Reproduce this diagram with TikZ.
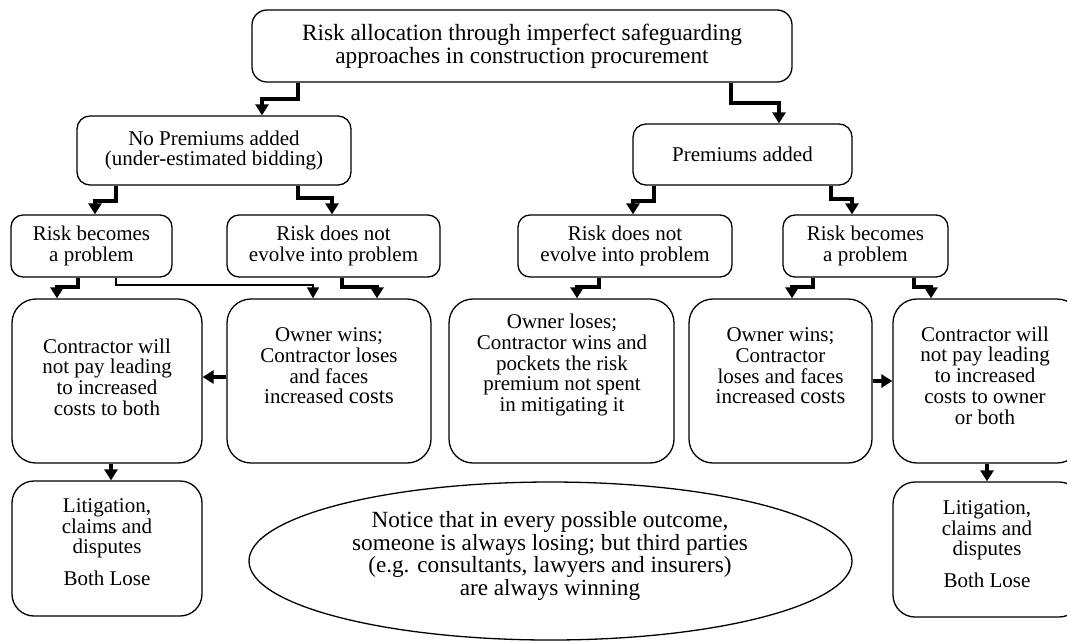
\documentclass[tikz,border=0pt]{standalone}
\usepackage{fontspec}
\setmainfont{Liberation Serif}
\usetikzlibrary{arrows.meta,shapes.geometric}
\newcommand\rowsz{\fontsize{21}{20.7}\selectfont}
\newcommand\titsz{\fontsize{23.3}{23}\selectfont}
\newcommand\ellsz{\fontsize{23.2}{22.7}\selectfont}
\newcommand\costword{{\fontsize{22.5}{20.7}\selectfont costs}}
\begin{document}
\begin{tikzpicture}[x=1pt,y=-1pt,
  box/.style={draw, line width=1.3pt, rounded corners=#1, inner sep=0pt, align=center, font=\rowsz},
  box/.default=12pt,
  txt/.style={inner sep=0pt, align=center, font=\rowsz},
  thk/.style={line width=3.2pt, line join=miter, -{Triangle[width=13pt,length=11pt]}},
  thn/.style={line width=1.3pt, line join=miter, -{Triangle[width=12pt,length=11pt]}}
]
\useasboundingbox (0,0) rectangle (1067,641);

% top
\node[box=15pt, minimum width=540pt, minimum height=72pt, font=\titsz] (top) at (522,46)
  {Risk allocation through imperfect safeguarding\\approaches in construction procurement};
% level 1
\node[box=13pt, minimum width=274pt, minimum height=69pt] (np) at (214,150.5)
  {No Premiums added\\(under-estimated bidding)};
\node[box=13pt, minimum width=219pt, minimum height=61pt] (pa) at (742.5,154.5)
  {Premiums added};
% level 2
\node[box, minimum width=161pt, minimum height=62pt] (rb1) at (91.5,246)
  {Risk becomes\\a problem};
\node[box, minimum width=213pt, minimum height=62pt] (rd1) at (333.5,246)
  {Risk does not\\evolve into problem};
\node[box, minimum width=214pt, minimum height=62pt] (rd2) at (625,246)
  {Risk does not\\evolve into problem};
\node[box, minimum width=165pt, minimum height=62pt] (rb2) at (865.5,246)
  {Risk becomes\\a problem};
% level 3
\node[box=24pt, minimum width=190pt, minimum height=164pt] (c1) at (107,381) {};
\node[box=24pt, minimum width=204pt, minimum height=164pt] (ow1) at (329,381) {};
\node[box=24pt, minimum width=225pt, minimum height=164pt] (ol) at (561.5,381) {};
\node[box=24pt, minimum width=183pt, minimum height=164pt] (ow2) at (780.5,381) {};
\node[box=24pt, minimum width=188pt, minimum height=164pt] (c2) at (987,381) {};
\node[txt] (c1t) at (107,377) {Contractor will\\not pay leading\\to increased\\costs to both};
\node[txt] (ow1t) at (329,366) {Owner wins;\\Contractor loses\\and faces\\increased \costword};
\node[txt] (olt) at (562,365) {Owner loses;\\Contractor wins and\\pockets the risk\\premium not spent\\in mitigating it};
\node[txt] (ow2t) at (780.5,366) {Owner wins;\\Contractor\\loses and faces\\increased \costword};
\node[txt] (c2t) at (985,375.5) {Contractor will\\not pay leading\\to increased\\costs to owner\\or both};
% level 4
\node[box=22pt, minimum width=190pt, minimum height=135pt] (l1) at (107,548.5) {};
\node[box=22pt, minimum width=188pt, minimum height=135pt] (l2) at (987,549.5) {};
\node[txt] (l1t) at (107,542) {Litigation,\\claims and\\disputes\\[11pt]Both Lose};
\node[txt] (l2t) at (987,544) {Litigation,\\claims and\\disputes\\[11pt]Both Lose};
% ellipse
\node[draw, line width=1.3pt, ellipse, inner sep=0pt, minimum width=603pt, minimum height=158pt] (ell) at (550.5,561) {};
\node[txt, font=\ellsz] (ellt) at (550,556) {Notice that in every possible outcome,\\someone is always losing; but third parties\\(e.g. consultants, lawyers and insurers)\\are always winning};

% connectors
\draw[thk] (top.south -| 298,0) |- (262,99) -- (np.north -| 262,0);
\draw[thk] (top.south -| 731,0) |- (779,103) -- (pa.north -| 779,0);
\draw[thk] (np.south -| 116,0) |- (95,201) -- (rb1.north -| 95,0);
\draw[thk] (np.south -| 298,0) |- (332,198) -- (rd1.north -| 332,0);
\draw[thk] (pa.south -| 654,0) |- (633,201) -- (rd2.north -| 633,0);
\draw[thk] (pa.south -| 831,0) |- (852,199) -- (rb2.north -| 852,0);
\draw[thk] (rb1.south -| 78,0) |- (57,287) -- (c1.north -| 57,0);
\draw[thn] (rb1.south -| 116,0) |- (313,285) -- (ow1.north -| 313,0);
\draw[thk] (rd1.south -| 342,0) |- (377,287) -- (ow1.north -| 377,0);
\draw[thk] (rd2.south -| 599,0) |- (577,287) -- (ol.north -| 577,0);
\draw[thk] (rb2.south -| 813,0) |- (792,287) -- (ow2.north -| 792,0);
\draw[thk] (rb2.south -| 914,0) |- (931,287) -- (c2.north -| 931,0);
\draw[thk] (ow1.west |- 0,377) -- (c1.east |- 0,377);
\draw[thk] (ow2.east |- 0,381) -- (c2.west |- 0,381);
\draw[thk] (c1.south -| 111,0) -- (l1.north -| 111,0);
\draw[thk] (c2.south -| 987,0) -- (l2.north -| 987,0);
\end{tikzpicture}
\end{document}
